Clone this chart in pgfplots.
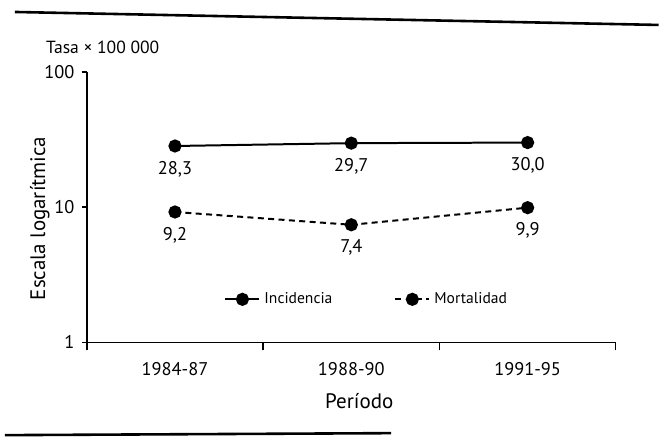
\documentclass[border=0pt]{standalone}
\usepackage{pgfplots}
\pgfplotsset{compat=1.18}
\usepackage{fontspec}
\setmainfont{PT Sans}
\begin{document}
\begin{tikzpicture}
\begin{axis}[
  at={(0,0)}, anchor=south west,
  scale only axis, width=265pt, height=135.5pt,
  ymode=log, ymin=1, ymax=100,
  xmin=-0.5, xmax=2.5,
  axis lines*=left,
  axis line style={line width=0.8pt},
  tick align=outside,
  xtick={0,1,2}, xticklabels={1984-87,1988-90,1991-95},
  major x tick style={draw=none},
  minor xtick={-0.5,0.5,1.5,2.5},
  minor tick length=4pt,
  minor x tick style={line width=0.7pt, black},
  ytick={1,10,100}, yticklabels={1,10,100},
  yminorticks=false,
  major tick length=2.5pt,
  major y tick style={line width=0.7pt, black},
  xticklabel style={anchor=north, inner sep=0pt, yshift=-7.5pt, font=\fontsize{9.2}{9}\selectfont},
  yticklabel style={anchor=east, inner sep=0pt, xshift=-3.5pt, font=\fontsize{9.2}{9}\selectfont},
  xlabel={Período},
  xlabel style={at={(axis description cs:0.515,-0.218)}, anchor=center, inner sep=0pt, font=\fontsize{10.5}{10}\selectfont},
  ylabel={Escala logarítmica},
  ylabel style={at={(axis description cs:-0.089,0.458)}, anchor=center, rotate=0, inner sep=0pt, font=\fontsize{10.5}{10}\selectfont},
  legend columns=2,
  legend style={at={(axis description cs:0.248,0.159)}, anchor=west, draw=none, fill=none,
    font=\fontsize{7.8}{7.8}\selectfont, /tikz/every even column/.append style={column sep=29pt}},
  clip=false,
]
\addplot[black, line width=1pt, mark=*, mark size=2.8pt,
  nodes near coords, point meta=explicit symbolic,
  every node near coord/.style={anchor=north, yshift=-7pt, inner sep=0pt, font=\fontsize{9.2}{9}\selectfont}]
  table[meta=label] {
x y label
0 28.3 28,3
1 29.7 29,7
2 30.0 30,0
};
\addlegendentry{Incidencia}
\addplot[black, line width=1pt, dash pattern=on 3pt off 2.2pt, mark=*, mark size=2.8pt, mark options={solid},
  nodes near coords, point meta=explicit symbolic,
  every node near coord/.style={anchor=north, yshift=-7pt, inner sep=0pt, font=\fontsize{9.2}{9}\selectfont}]
  table[meta=label] {
x y label
0 9.2 9,2
1 7.4 7,4
2 9.9 9,9
};
\addlegendentry{Mortalidad}
\node[font=\fontsize{8.8}{8.8}\selectfont, inner sep=0pt] at (axis description cs:0.03,1.089) {Tasa × 100 000};
\end{axis}
\draw[line width=1.3pt] (-36pt,165.5pt) -- (286.5pt,159pt);
\draw[line width=1.3pt] (-41pt,-46.5pt) -- (152.5pt,-45.5pt);
\path[use as bounding box] (-43.5pt,-50.5pt) rectangle (286.5pt,171.5pt);
\end{tikzpicture}
\end{document}
